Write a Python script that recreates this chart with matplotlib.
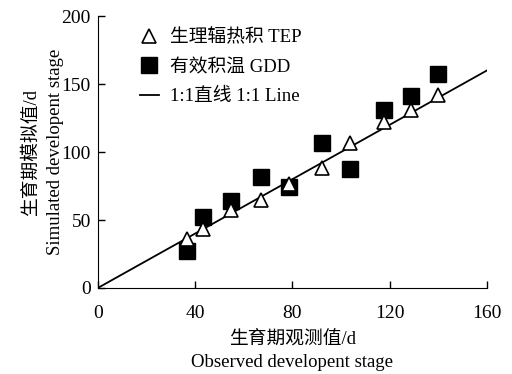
import matplotlib.pyplot as plt
import numpy as np

plt.rcParams['font.family'] = ['Liberation Serif', 'Noto Sans CJK SC']
plt.rcParams['axes.unicode_minus'] = False

observed = [36.7, 43.3, 54.7, 67.0, 78.6, 92.3, 103.7, 117.7, 128.8, 140.0]
tep_sim = [35.8, 43.2, 57.4, 64.7, 76.5, 88.0, 106.8, 122.3, 130.9, 141.9]
gdd_sim = [27.4, 52.0, 64.0, 81.9, 74.0, 106.4, 87.3, 130.9, 141.4, 157.4]
line_x = [0, 160]

fig = plt.figure(figsize=(5.12, 3.74), dpi=100)
ax = fig.add_axes([0.191, 0.23, 0.76, 0.727])

ax.plot(observed, gdd_sim, 's', color='black', markersize=11, label='有效积温 GDD', zorder=2)
ax.plot(observed, tep_sim, '^', markerfacecolor='white', markeredgecolor='black',
        markersize=10, markeredgewidth=1.2, label='生理辐热积 TEP', zorder=3)
ax.plot(line_x, line_x, '-', color='black', linewidth=1.3, label='1:1直线 1:1 Line', zorder=1)

ax.set_xlim(0, 160)
ax.set_ylim(0, 200)
ax.set_xticks([0, 40, 80, 120, 160])
ax.set_yticks([0, 50, 100, 150, 200])
ax.tick_params(direction='in', labelsize=14, length=5, width=1)
ax.tick_params(axis='x', pad=12)
ax.tick_params(axis='y', pad=5)
ax.spines['top'].set_visible(False)
ax.spines['right'].set_visible(False)

ax.set_xlabel('生育期观测值/d\nObserved developent stage', fontsize=13.5, linespacing=1.5,
              labelpad=6)
ax.set_ylabel('生育期模拟值/d\nSimulated developent stage', fontsize=13.5, linespacing=1.55,
              labelpad=-2)

h, l = ax.get_legend_handles_labels()
order = [1, 0, 2]
ax.legend([h[i] for i in order], [l[i] for i in order], loc='upper left', frameon=False,
          fontsize=13.5, handlelength=1.0, handletextpad=0.6, labelspacing=0.65,
          bbox_to_anchor=(0.065, 1.015))

fig.savefig('out.png', dpi=100)
